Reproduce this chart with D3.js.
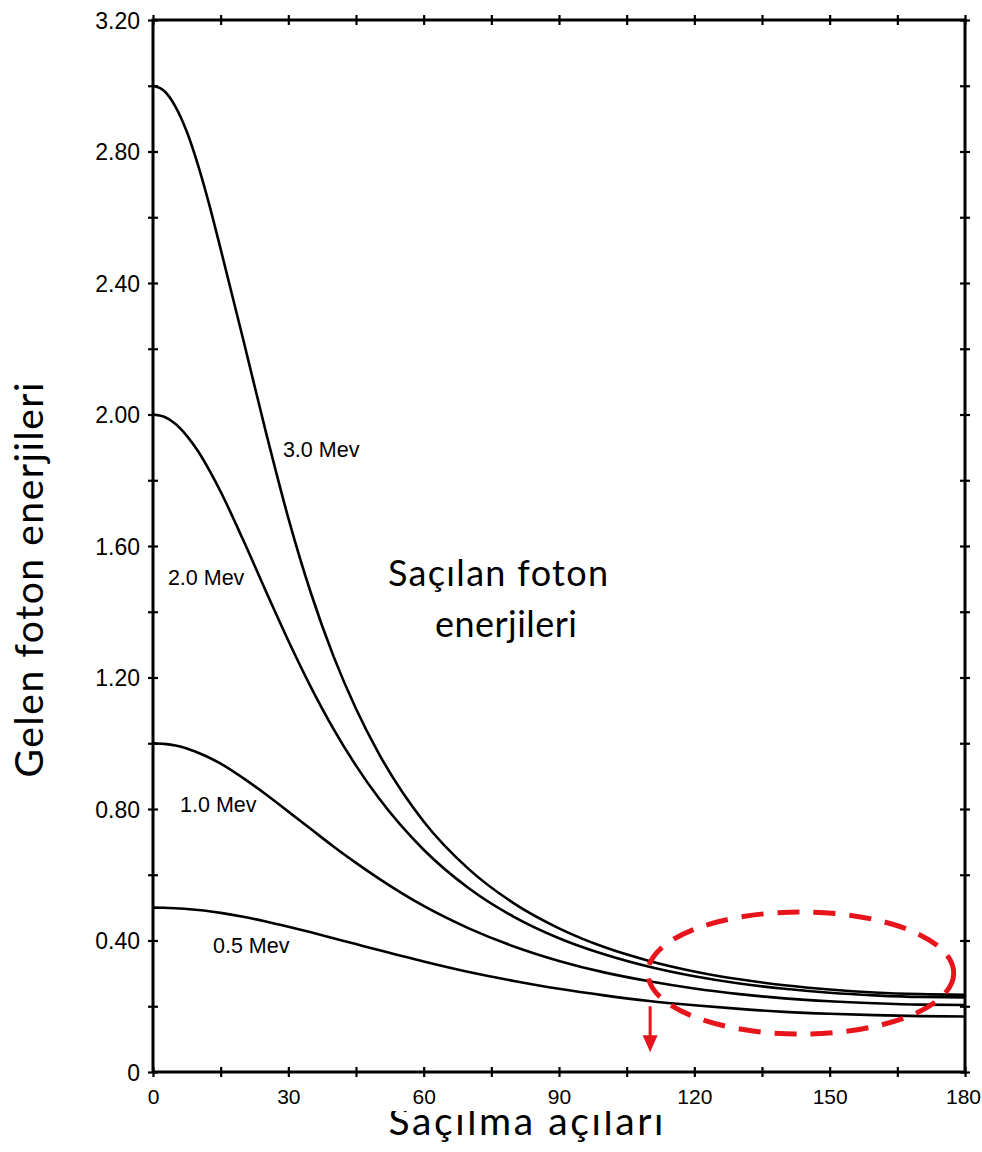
<!DOCTYPE html>
<html>
<head>
<meta charset="utf-8">
<script src="https://cdn.jsdelivr.net/npm/d3@7"></script>
<style>
  html, body { margin: 0; padding: 0; background: #fff; }
  svg { display: block; }
</style>
</head>
<body>
<svg id="chart" width="982" height="1152"></svg>
<script>
// ---- data ----
const angles = [0,2.5,5,7.5,10,12.5,15,20,25,30,35,40,45,50,60,70,80,90,100,110,120,130,140,150,160,170,180];
const e30 = [3.000,2.984,2.936,2.860,2.758,2.637,2.503,2.228,1.948,1.685,1.457,1.265,1.105,0.970,0.762,0.617,0.513,0.437,0.380,0.338,0.306,0.282,0.264,0.251,0.242,0.237,0.235];
const e20 = [2.000,1.993,1.971,1.935,1.888,1.830,1.765,1.618,1.463,1.312,1.171,1.044,0.932,0.834,0.676,0.559,0.472,0.407,0.358,0.320,0.291,0.269,0.253,0.241,0.233,0.228,0.227];
const e10 = [1.000,0.998,0.993,0.984,0.971,0.956,0.938,0.894,0.845,0.792,0.739,0.686,0.636,0.589,0.505,0.437,0.382,0.338,0.303,0.276,0.254,0.237,0.224,0.215,0.209,0.205,0.204];
const e05 = [0.500,0.4995,0.498,0.496,0.493,0.489,0.484,0.472,0.458,0.442,0.425,0.407,0.389,0.371,0.336,0.304,0.277,0.253,0.233,0.216,0.203,0.192,0.183,0.177,0.173,0.170,0.169];
const seriesNames = ["3.0 Mev","2.0 Mev","1.0 Mev","0.5 Mev"];
const xMajorTicks = [0,30,60,90,120,150,180];
const xMinorTicks = [0,15,30,45,60,75,90,105,120,135,150,165,180];
const yMajorTicks = [0,0.4,0.8,1.2,1.6,2.0,2.4,2.8,3.2];
const yMinorTicks = [0,0.2,0.4,0.6,0.8,1.0,1.2,1.4,1.6,1.8,2.0,2.2,2.4,2.6,2.8,3.0,3.2];
const yTickLabels = ["0","0.40","0.80","1.20","1.60","2.00","2.40","2.80","3.20"];
// label anchor positions in data units [angle, energy]
const labelPos = [[28.8,1.871],[3.3,1.481],[6.0,0.791],[13.3,0.362]];
const yTitle = "Gelen foton enerjileri";
const xTitle = "Saçılma açıları";
const centerText = ["Saçılan foton","enerjileri"];

// ---- scales ----
const svg = d3.select("#chart");
const x = d3.scaleLinear().domain([0,180]).range([153,965]);
const y = d3.scaleLinear().domain([0,3.2]).range([1072,20]);

// ---- frame ----
svg.append("rect")
  .attr("x", x(0)).attr("y", y(3.2))
  .attr("width", x(180)-x(0)).attr("height", y(0)-y(3.2))
  .attr("fill","none").attr("stroke","#000").attr("stroke-width",3);

// crossing ticks via paired axes
function crossAxis(axisA, axisB, tr) {
  [axisA, axisB].forEach(ax => {
    const g = svg.append("g").attr("transform", tr).call(ax);
    g.select(".domain").remove();
    g.selectAll("line").attr("stroke","#000").attr("stroke-width",2.2);
    g.selectAll("text").remove();
  });
}
const ts = 5;
crossAxis(d3.axisLeft(y).tickValues(yMinorTicks).tickSize(ts),
          d3.axisRight(y).tickValues(yMinorTicks).tickSize(ts), `translate(${x(0)},0)`);
crossAxis(d3.axisLeft(y).tickValues(yMinorTicks).tickSize(ts),
          d3.axisRight(y).tickValues(yMinorTicks).tickSize(ts), `translate(${x(180)},0)`);
crossAxis(d3.axisTop(x).tickValues(xMinorTicks).tickSize(ts),
          d3.axisBottom(x).tickValues(xMinorTicks).tickSize(ts), `translate(0,${y(0)})`);
crossAxis(d3.axisTop(x).tickValues(xMinorTicks).tickSize(ts),
          d3.axisBottom(x).tickValues(xMinorTicks).tickSize(ts), `translate(0,${y(3.2)})`);

// tick labels
const tickFont = "'Liberation Sans', Arial, Helvetica, sans-serif";
const gyl = svg.append("g").attr("transform", `translate(${x(0)-10},0)`)
  .call(d3.axisLeft(y).tickValues(yMajorTicks).tickSize(0)
        .tickFormat((d,i) => yTickLabels[i]));
gyl.select(".domain").remove();
gyl.selectAll("text").attr("font-family", tickFont).attr("font-size", 23)
  .attr("fill","#000").attr("dx", 0).attr("dy","0.36em");

const gxl = svg.append("g").attr("transform", `translate(0,${y(0)+14})`)
  .call(d3.axisBottom(x).tickValues(xMajorTicks).tickSize(0).tickFormat(d3.format("d")));
gxl.select(".domain").remove();
gxl.selectAll("text").attr("font-family", tickFont).attr("font-size", 21)
  .attr("fill","#000").attr("dy","0.71em")
  .attr("dx", d => d === 180 ? -2 : 0);

// ---- curves ----
const allSeries = [e30, e20, e10, e05];
const line = d3.line()
  .x((d,i) => x(angles[i]))
  .y(d => y(d))
  .curve(d3.curveMonotoneX);
svg.append("g").selectAll("path").data(allSeries).join("path")
  .attr("d", d => line(d))
  .attr("fill","none").attr("stroke","#000").attr("stroke-width",2.6)
  .attr("stroke-linejoin","round");

// curve labels
svg.append("g").selectAll("text").data(seriesNames).join("text")
  .attr("x", (d,i) => x(labelPos[i][0]))
  .attr("y", (d,i) => y(labelPos[i][1]))
  .attr("font-family", tickFont).attr("font-size", 21.5)
  .attr("fill","#000")
  .text(d => d.replace(" ", "\u00a0"));

// ---- titles ----
const titleFont = "Lato, 'Open Sans', 'Noto Sans', sans-serif";
svg.append("text")
  .attr("transform", "translate(43,580) rotate(-90)")
  .attr("text-anchor","middle")
  .attr("font-family", titleFont).attr("font-size", 39)
  .attr("textLength", 395).attr("lengthAdjust","spacing")
  .attr("fill","#000").text(yTitle);

const defs = svg.append("defs");
defs.append("clipPath").attr("id","xtclip")
  .append("rect").attr("x",0).attr("y",1111).attr("width",982).attr("height",60);
svg.append("text")
  .attr("x", 526).attr("y", 1135)
  .attr("text-anchor","middle")
  .attr("clip-path","url(#xtclip)")
  .attr("font-family", titleFont).attr("font-size", 39)
  .attr("textLength", 275).attr("lengthAdjust","spacing")
  .attr("fill","#000").text(xTitle);

const centerLen = [220, 142];
svg.append("g").selectAll("text").data(centerText).join("text")
  .attr("x", (d,i) => i === 0 ? 498 : 506).attr("y", (d,i) => 586 + i*51)
  .attr("text-anchor","middle")
  .attr("font-family", titleFont).attr("font-size", 36)
  .attr("textLength", (d,i) => centerLen[i]).attr("lengthAdjust","spacing")
  .attr("fill","#000").text(d => d);

// ---- red annotations ----
const red = "#e8141b";
const ell = {cx: 143.6, cy: 0.301, rx: 33.9, ry: 0.1856};
svg.append("ellipse")
  .attr("cx", x(ell.cx)).attr("cy", y(ell.cy))
  .attr("rx", x(ell.rx) - x(0)).attr("ry", y(0) - y(ell.ry))
  .attr("fill","none").attr("stroke",red).attr("stroke-width",5)
  .attr("stroke-dasharray","22,14");

const arrow = {a: 110.2, from: 0.20, to: 0.06};
const ax = x(arrow.a), ay1 = y(arrow.from), ay2 = y(arrow.to);
svg.append("line")
  .attr("x1", ax).attr("x2", ax)
  .attr("y1", ay1).attr("y2", ay2 - 15)
  .attr("stroke",red).attr("stroke-width",3);
svg.append("path")
  .attr("d", d3.line()([[ax-7.5, ay2-17],[ax+7.5, ay2-17],[ax, ay2]]) + "Z")
  .attr("fill",red);
</script>
</body>
</html>
